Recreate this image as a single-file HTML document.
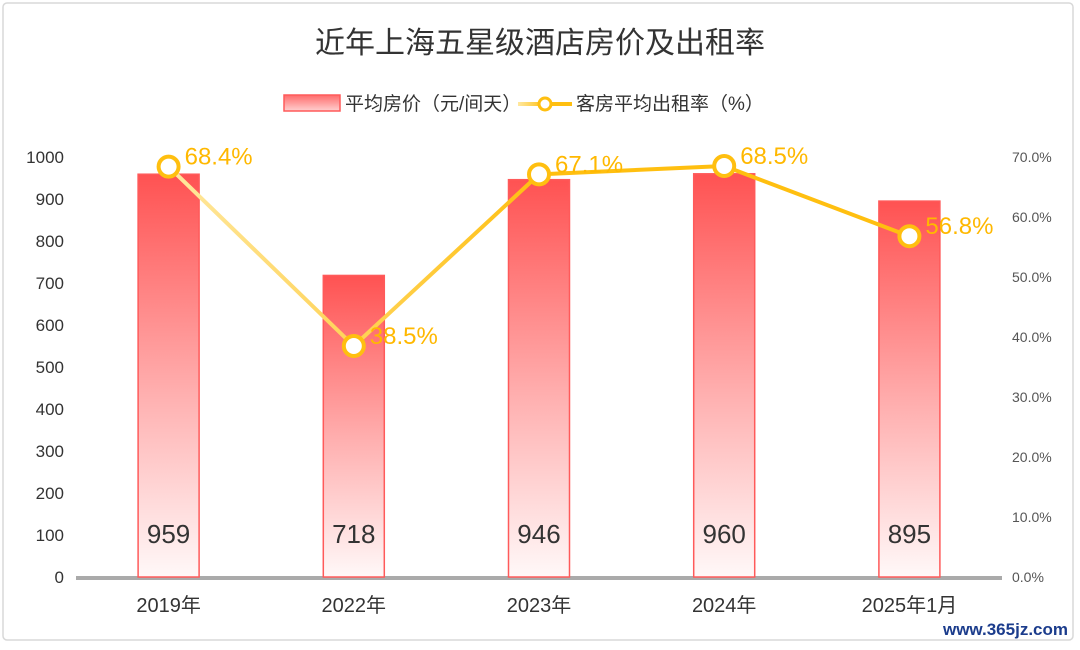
<!DOCTYPE html>
<html><head><meta charset="utf-8"><style>
html,body{margin:0;padding:0;background:#fff}
svg text{font-family:"Liberation Sans","Noto Sans CJK SC",sans-serif}
</style></head><body>
<svg id="chart" width="1080" height="645" viewBox="0 0 1080 645" xmlns="http://www.w3.org/2000/svg">
<defs>
<linearGradient id="barGrad" x1="0" y1="0" x2="0" y2="1">
<stop offset="0" stop-color="#ff5252"/><stop offset="0.55" stop-color="#ffb0b0"/><stop offset="1" stop-color="#fff8f8"/>
</linearGradient>
<linearGradient id="legGrad" x1="0" y1="0" x2="0" y2="1">
<stop offset="0" stop-color="#ff6b6b"/><stop offset="1" stop-color="#ffd0d0"/>
</linearGradient>
<linearGradient id="lineGrad" gradientUnits="userSpaceOnUse" x1="168" y1="0" x2="540" y2="0">
<stop offset="0" stop-color="#ffe8a0"/><stop offset="1" stop-color="#ffbf10"/>
</linearGradient>
<linearGradient id="legLine" gradientUnits="userSpaceOnUse" x1="518" y1="0" x2="572" y2="0">
<stop offset="0" stop-color="#ffe8a0"/><stop offset="0.5" stop-color="#ffbf10"/><stop offset="1" stop-color="#ffbf10"/>
</linearGradient>
</defs>
<rect x="3" y="3" width="1070" height="637" rx="4" fill="#fff" stroke="#d8d8d8" stroke-width="1.5"/>
<text x="540" y="53" text-anchor="middle" font-size="30" fill="#333">近年上海五星级酒店房价及出租率</text>
<g>
<rect x="284" y="95" width="56" height="16" fill="url(#legGrad)" stroke="#ff5a5a" stroke-width="1.5"/>
<text x="345" y="110" font-size="19" fill="#333">平均房价（元/间天）</text>
<line x1="518" y1="104" x2="572" y2="104" stroke="url(#legLine)" stroke-width="4"/>
<circle cx="545" cy="104" r="6" fill="#fff" stroke="#ffbf10" stroke-width="3"/>
<text x="576" y="110" font-size="19" fill="#333">客房平均出租率（%）</text>
</g>
<g id="axes"></g>
<g id="bars"></g>
<g id="line"></g>
<text x="1068" y="635" text-anchor="end" font-size="17" font-weight="bold" fill="#1b3c8c" font-family="Liberation Serif, serif">www.365jz.com</text>
</svg>
<script>
const categories=["2019年","2022年","2023年","2024年","2025年1月"];
const prices=[959,718,946,960,895];
const occupancy=[68.4,38.5,67.1,68.5,56.8];
const leftTicks=[0,100,200,300,400,500,600,700,800,900,1000];
const rightTicks=[0,10,20,30,40,50,60,70];
const NS="http://www.w3.org/2000/svg";
const plotL=76,plotR=1002,y0=577,yTop=157;
function yL(v){return y0-(v/1000)*(y0-yTop);}
function yR(v){return y0-(v/70)*(y0-yTop);}
function xC(i){return plotL+(plotR-plotL)*(i+0.5)/categories.length;}
function mk(tag,attrs,parent,txt){const e=document.createElementNS(NS,tag);for(const k in attrs)e.setAttribute(k,attrs[k]);if(txt!==undefined)e.textContent=txt;parent.appendChild(e);return e;}
const axes=document.getElementById('axes'),bars=document.getElementById('bars'),line=document.getElementById('line');
leftTicks.forEach(v=>{const t=mk('text',{x:64,y:yL(v)+6,'text-anchor':'end','font-size':17,fill:'#333'},axes,String(v));

});
rightTicks.forEach(v=>{const t=mk('text',{x:1012,y:yR(v)+5,'font-size':14,fill:'#555'},axes,v.toFixed(1)+'%');

});
categories.forEach((c,i)=>{const t=mk('text',{x:xC(i),y:612,'text-anchor':'middle','font-size':20,fill:'#333'},axes,c);

});
const bw=61;
prices.forEach((v,i)=>{const r=mk('rect',{x:xC(i)-bw/2,y:yL(v),width:bw,height:y0-yL(v),fill:'url(#barGrad)',stroke:'#ff5a5a','stroke-width':1.5},bars);


const t=mk('text',{x:xC(i),y:543,'text-anchor':'middle','font-size':26,fill:'#333'},bars,String(v));

});
const ax=mk('line',{x1:plotL,y1:y0+1,x2:plotR,y2:y0+1,stroke:'#aaa','stroke-width':4},axes);


const pts=occupancy.map((v,i)=>xC(i)+','+yR(v)).join(' ');
const pl=mk('polyline',{points:pts,fill:'none',stroke:'url(#lineGrad)','stroke-width':4,'stroke-linejoin':'round'},line);


occupancy.forEach((v,i)=>{const c=mk('circle',{cx:xC(i),cy:yR(v),r:10,fill:'#fff',stroke:'#ffbf10','stroke-width':4},line);


const t=mk('text',{x:xC(i)+16,y:yR(v)-2,'font-size':24,fill:'#ffb800'},line,v.toFixed(1)+'%');

});
</script>
</body></html>
